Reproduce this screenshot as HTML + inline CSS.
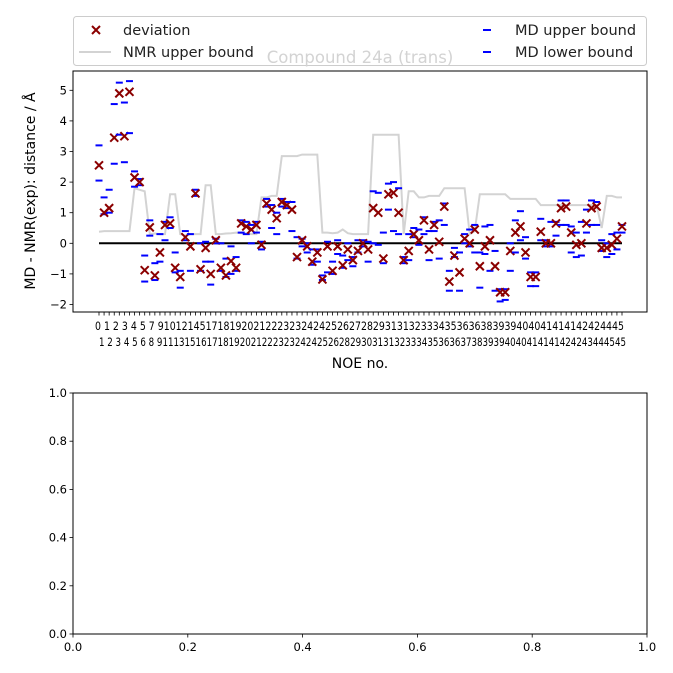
<!DOCTYPE html>
<html><head><meta charset="utf-8"><style>
html,body{margin:0;padding:0;background:#fff;}
svg{display:block;font-family:"DejaVu Sans","Liberation Sans",sans-serif;}
</style></head><body>
<svg id="chart" width="673" height="673" viewBox="0 0 673 673">
<rect x="0" y="0" width="673" height="673" fill="#fff"/>
<g id="plot1"></g>
<g id="legend">
<rect x="73.5" y="16.5" width="573" height="49" rx="3" fill="#fff" fill-opacity="0.8" stroke="#ccc"/>
<g>
<path d="M92,26 L100,34 M100,26 L92,34" stroke="#8b0000" stroke-width="2"/>
<text x="123" y="35" font-size="14.5" fill="#222">deviation</text></g>
<g>
<line x1="79" y1="52" x2="111" y2="52" stroke="#d3d3d3" stroke-width="2"/>
<text x="123" y="57" font-size="14.5" fill="#222">NMR upper bound</text></g>
<g>
<line x1="483" y1="30" x2="491" y2="30" stroke="#0000ff" stroke-width="2"/>
<text x="515" y="35" font-size="14.5" fill="#222">MD upper bound</text></g>
<g>
<line x1="483" y1="52" x2="491" y2="52" stroke="#0000ff" stroke-width="2"/>
<text x="515" y="57" font-size="14.5" fill="#222">MD lower bound</text></g>
</g>
<text id="title" x="360" y="63" text-anchor="middle" font-size="16.5" fill="#d3d3d3">Compound 24a (trans)</text>
<g id="plot2"></g>
</svg>
<script>
const deviation=[2.55,1.0,1.15,3.45,4.9,3.5,4.95,2.15,2.0,-0.88,0.52,-1.05,-0.3,0.6,0.65,-0.8,-1.1,0.2,-0.1,1.63,-0.85,-0.15,-1.0,0.1,-0.8,-1.05,-0.58,-0.8,0.65,0.55,0.45,0.6,-0.05,1.3,1.1,0.82,1.35,1.25,1.1,-0.45,0.1,-0.1,-0.6,-0.3,-1.18,-0.1,-0.9,-0.1,-0.72,-0.2,-0.55,-0.25,0.0,-0.2,1.15,1.0,-0.5,1.6,1.65,1.0,-0.55,-0.25,0.3,0.1,0.75,-0.2,0.6,0.05,1.2,-1.25,-0.4,-0.95,0.15,0.0,0.45,-0.75,-0.1,0.1,-0.75,-1.6,-1.6,-0.25,0.35,0.55,-0.3,-1.1,-1.1,0.38,0.0,0.0,0.65,1.15,1.2,0.35,-0.05,0.0,0.65,1.15,1.2,-0.15,-0.15,-0.05,0.15,0.55];
const mdUpper=[3.2,1.5,1.75,4.55,5.25,4.6,5.3,2.35,2.1,-0.4,0.75,-0.65,0.3,0.7,0.85,-0.3,-0.9,0.4,0.3,1.75,0.0,0.05,-0.6,0.15,0.0,-0.5,-0.1,-0.45,0.75,0.7,0.6,0.7,0.05,1.45,1.25,1.0,1.45,1.35,1.35,0.2,0.15,0.0,-0.2,-0.2,-1.05,0.05,-0.6,0.1,-0.4,0.0,-0.45,0.1,0.1,0.05,1.7,1.65,0.35,1.95,2.0,1.8,-0.45,0.3,0.5,0.45,0.85,0.4,0.7,0.75,1.3,-0.9,-0.15,-0.3,0.3,0.45,0.6,-0.3,0.55,0.6,-0.25,-1.5,-1.5,0.0,0.75,1.05,0.2,-0.95,-0.95,0.8,0.1,0.7,0.7,1.4,1.4,0.55,0.35,0.7,1.1,1.4,1.35,0.1,0.0,0.3,0.35,0.6];
const mdLower=[2.05,0.95,1.0,2.6,3.55,2.65,3.6,1.85,1.9,-1.25,0.25,-1.2,-0.6,0.1,0.5,-0.95,-1.45,0.1,-0.9,1.55,-0.9,-0.6,-1.35,0.0,-0.9,-1.1,-1.0,-0.9,0.35,0.3,0.0,0.35,-0.2,1.2,0.5,0.3,1.2,1.15,0.4,-0.5,-0.1,-0.3,-0.7,-0.6,-1.2,-0.95,-1.0,-0.35,-0.8,-0.55,-0.75,-0.3,-0.1,-0.6,0.0,-0.05,-0.65,1.1,0.4,0.3,-0.65,-0.55,0.2,-0.05,0.3,-0.55,0.4,-0.5,0.6,-1.55,-0.45,-1.55,0.0,-0.1,-0.3,-1.45,-0.35,-0.9,-1.55,-1.9,-1.85,-0.9,-0.3,0.1,-0.5,-1.4,-1.4,0.1,-0.1,-0.1,0.25,0.6,0.6,-0.3,-0.45,-0.4,0.35,0.6,0.6,-0.25,-0.45,-0.35,-0.2,0.35];
const nmrUpper=[0.38,0.4,0.4,0.4,0.4,0.4,0.4,1.8,1.75,1.7,0.3,0.32,0.3,0.3,1.6,1.6,0.3,0.25,0.3,0.3,0.3,1.9,1.9,0.3,0.3,0.32,0.33,0.35,0.33,0.33,0.3,0.3,1.5,1.5,1.55,1.55,2.85,2.85,2.85,2.85,2.9,2.9,2.9,2.9,0.35,0.35,0.33,0.35,0.45,0.33,0.3,0.3,0.3,0.3,3.55,3.55,3.55,3.55,3.55,3.55,0.3,1.7,1.7,1.5,1.5,1.55,1.55,1.55,1.8,1.8,1.8,1.8,1.8,0.3,0.4,1.6,1.6,1.6,1.6,1.6,1.6,1.45,1.45,1.45,1.45,1.45,1.45,1.25,1.25,1.25,1.25,1.25,1.25,1.25,1.25,1.25,1.25,1.25,1.25,0.5,1.55,1.55,1.5,1.5];
const yTicks1=[-2,-1,0,1,2,3,4,5];
const xTopLabels="0 1 2 3 4 5 7 910121451718192021222323242425262728293131323334353636383939404041414142424445";
const xBotLabels="1 2 3 4 5 6 8 9111315161718192021222323242425262829303131323334353636373839394040414141424243444545";
const yTicks2=[0.0,0.2,0.4,0.6,0.8,1.0];
const xTicks2=[0.0,0.2,0.4,0.6,0.8,1.0];

const NS="http://www.w3.org/2000/svg";
function mk(tag,attrs,parent){const e=document.createElementNS(NS,tag);for(const k in attrs)e.setAttribute(k,attrs[k]);parent.appendChild(e);return e;}
const P1={l:73,r:647,t:71,b:312};
const N=deviation.length;
const xs=i=>99+i*(523/(N-1));
const ys=v=>243.3-v*30.6;
const g1=document.getElementById('plot1');
let d="";nmrUpper.forEach((v,i)=>{d+=(i?"L":"M")+xs(i).toFixed(1)+","+ys(v).toFixed(1);});
const nl=mk('path',{d:d,fill:"none",stroke:"#d3d3d3","stroke-width":2},g1);


const zl=mk('line',{x1:xs(0),x2:xs(N-1),y1:ys(0),y2:ys(0),stroke:"#000","stroke-width":2},g1);


for(let i=0;i<N;i++){
  const x=xs(i);
  const u=mk('line',{x1:x-3.5,x2:x+3.5,y1:ys(mdUpper[i]),y2:ys(mdUpper[i]),stroke:"#0000ff","stroke-width":2},g1);
  
  
  const lo=mk('line',{x1:x-3.5,x2:x+3.5,y1:ys(mdLower[i]),y2:ys(mdLower[i]),stroke:"#0000ff","stroke-width":2},g1);
  
  
  const y=ys(deviation[i]);
  const m=mk('path',{d:`M${x-4},${y-4}L${x+4},${y+4}M${x+4},${y-4}L${x-4},${y+4}`,stroke:"#8b0000","stroke-width":2},g1);
  
  
  mk('line',{x1:x,x2:x,y1:P1.b,y2:P1.b+3.5,stroke:"#000","stroke-width":0.8},g1);
}
const f1=mk('rect',{x:P1.l,y:P1.t,width:P1.r-P1.l,height:P1.b-P1.t,fill:"none",stroke:"#000","stroke-width":1},g1);


yTicks1.forEach(v=>{
  const y=ys(v);
  mk('line',{x1:P1.l-3.5,x2:P1.l,y1:y,y2:y,stroke:"#000","stroke-width":0.8},g1);
  const t=mk('text',{x:P1.l-6,y:y+4,"text-anchor":"end","font-size":11.5,fill:"#000"},g1);
  t.textContent=v<0?"\u2212"+(-v):String(v);
  
  
});
const t1=mk('text',{x:95,y:330,"font-size":11.5,textLength:529,lengthAdjust:"spacingAndGlyphs"},g1);
t1.textContent=xTopLabels;


const t2=mk('text',{x:99,y:346,"font-size":11.5,textLength:527,lengthAdjust:"spacingAndGlyphs"},g1);
t2.textContent=xBotLabels;


const xl=mk('text',{x:360,y:368,"text-anchor":"middle","font-size":14},g1);
xl.textContent="NOE no.";


const yl=mk('text',{x:0,y:0,"text-anchor":"middle","font-size":14,transform:"translate(35,191) rotate(-90)"},g1);
yl.textContent="MD - NMR(exp): distance / Å";



const P2={l:73,r:647,t:393,b:634};
const g2=document.getElementById('plot2');
const f2=mk('rect',{x:P2.l,y:P2.t,width:P2.r-P2.l,height:P2.b-P2.t,fill:"none",stroke:"#000","stroke-width":1},g2);


yTicks2.forEach(v=>{
  const y=P2.b-v*(P2.b-P2.t);
  mk('line',{x1:P2.l-3.5,x2:P2.l,y1:y,y2:y,stroke:"#000","stroke-width":0.8},g2);
  const t=mk('text',{x:P2.l-6,y:y+4,"text-anchor":"end","font-size":11.5},g2);
  t.textContent=v.toFixed(1);
  
  
});
xTicks2.forEach(v=>{
  const x=P2.l+v*(P2.r-P2.l);
  mk('line',{x1:x,x2:x,y1:P2.b,y2:P2.b+3.5,stroke:"#000","stroke-width":0.8},g2);
  const t=mk('text',{x:x,y:P2.b+17,"text-anchor":"middle","font-size":11.5},g2);
  t.textContent=v.toFixed(1);
  
  
});
const svgRoot=document.getElementById('chart');
svgRoot.appendChild(document.getElementById('legend'));
svgRoot.appendChild(document.getElementById('title'));
</script>
</body></html>
